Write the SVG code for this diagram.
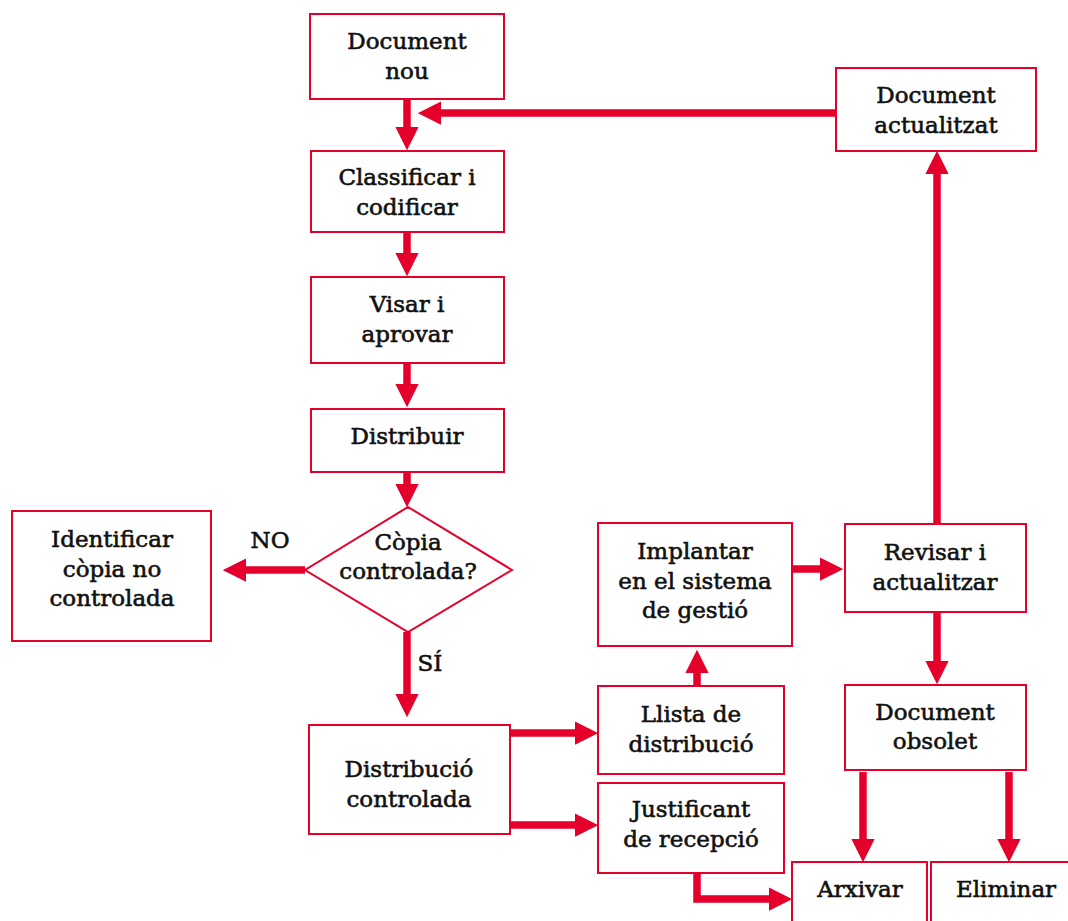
<svg xmlns="http://www.w3.org/2000/svg" width="1068" height="921" viewBox="0 0 1068 921">
<style>
.box{fill:#fff;stroke:#e4002b;stroke-width:2}
.t{font-family:"DejaVu Serif","Liberation Serif",serif;font-size:23px;fill:#111;stroke:#111;stroke-width:0.6;text-anchor:middle}
.c{fill:none;stroke:#e4002b;stroke-width:7.5}
</style>
<defs>
<marker id="ah" viewBox="0 0 10 10" refX="0" refY="5" markerWidth="3.1" markerHeight="3.1" orient="auto" markerUnits="strokeWidth">
<path d="M0,0 L10,5 L0,10 z" fill="#e4002b"/>
</marker>
</defs>
<rect width="1068" height="921" fill="#fff"/>
<g id="connectors">
<path class="c" d="M407,100 V127" marker-end="url(#ah)"/>
<path class="c" d="M836,113 H441" marker-end="url(#ah)"/>
<path class="c" d="M407,232 V253" marker-end="url(#ah)"/>
<path class="c" d="M407,363 V384" marker-end="url(#ah)"/>
<path class="c" d="M407,472 V484" marker-end="url(#ah)"/>
<path class="c" d="M305,570 H246" marker-end="url(#ah)"/>
<path class="c" d="M407,632 V694" marker-end="url(#ah)"/>
<path class="c" d="M510,733 H575" marker-end="url(#ah)"/>
<path class="c" d="M510,825 H575" marker-end="url(#ah)"/>
<path class="c" d="M697,686 V673" marker-end="url(#ah)"/>
<path class="c" d="M792,569 H820" marker-end="url(#ah)"/>
<path class="c" d="M937,524 V174" marker-end="url(#ah)"/>
<path class="c" d="M937,612 V661" marker-end="url(#ah)"/>
<path class="c" d="M863,772 V839" marker-end="url(#ah)"/>
<path class="c" d="M1009,772 V839" marker-end="url(#ah)"/>
<path class="c" d="M697,873 V899 H769" marker-end="url(#ah)"/>
</g>
<g id="doc-nou"><rect class="box" x="310" y="14" width="194" height="85"/><text class="t" x="407" y="49">Document</text><text class="t" x="407" y="79">nou</text></g>
<g id="doc-actualitzat"><rect class="box" x="836" y="68" width="200" height="83"/><text class="t" x="936" y="103">Document</text><text class="t" x="936" y="133">actualitzat</text></g>
<g id="classificar"><rect class="box" x="311" y="151" width="193" height="81"/><text class="t" x="407" y="185">Classificar i</text><text class="t" x="407" y="215">codificar</text></g>
<g id="visar"><rect class="box" x="311" y="277" width="193" height="86"/><text class="t" x="407" y="312">Visar i</text><text class="t" x="407" y="342">aprovar</text></g>
<g id="distribuir"><rect class="box" x="311" y="409" width="193" height="63"/><text class="t" x="407" y="444">Distribuir</text></g>
<g id="copia"><polygon class="box" points="408,507 512,570 408,632 305,570"/><text class="t" x="408" y="550">Còpia</text><text class="t" x="408" y="579">controlada?</text></g>
<g id="label-no"><text class="t" x="270" y="548">NO</text></g>
<g id="label-si"><text class="t" x="430" y="671">SÍ</text></g>
<g id="identificar"><rect class="box" x="12" y="511" width="199" height="130"/><text class="t" x="112" y="547">Identificar</text><text class="t" x="112" y="577">còpia no</text><text class="t" x="112" y="606">controlada</text></g>
<g id="distribucio"><rect class="box" x="309" y="725" width="201" height="109"/><text class="t" x="409" y="777">Distribució</text><text class="t" x="409" y="807">controlada</text></g>
<g id="implantar"><rect class="box" x="598" y="523" width="194" height="123"/><text class="t" x="695" y="559">Implantar</text><text class="t" x="695" y="589">en el sistema</text><text class="t" x="695" y="618">de gestió</text></g>
<g id="revisar"><rect class="box" x="845" y="524" width="181" height="88"/><text class="t" x="935" y="560">Revisar i</text><text class="t" x="935" y="590">actualitzar</text></g>
<g id="llista"><rect class="box" x="598" y="686" width="186" height="88"/><text class="t" x="691" y="722">Llista de</text><text class="t" x="691" y="752">distribució</text></g>
<g id="justificant"><rect class="box" x="598" y="783" width="186" height="90"/><text class="t" x="691" y="817">Justificant</text><text class="t" x="691" y="847">de recepció</text></g>
<g id="doc-obsolet"><rect class="box" x="845" y="685" width="181" height="85"/><text class="t" x="935" y="720">Document</text><text class="t" x="935" y="749">obsolet</text></g>
<g id="arxivar"><rect class="box" x="792" y="862" width="135" height="80"/><text class="t" x="860" y="897">Arxivar</text></g>
<g id="eliminar"><rect class="box" x="931" y="862" width="150" height="80"/><text class="t" x="1006" y="897">Eliminar</text></g>
</svg>
